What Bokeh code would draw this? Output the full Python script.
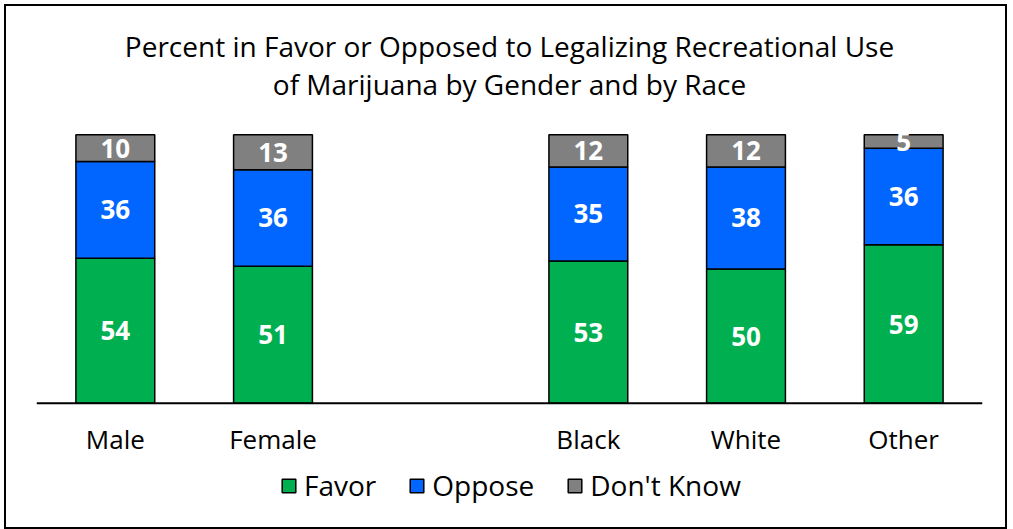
from bokeh.plotting import figure
from bokeh.models import ColumnDataSource, Legend, LegendItem, Label, Span
from bokeh.core.properties import value
from bokeh.embed import file_html
from bokeh.resources import INLINE

# ---- data ----
categories = ["Male", "Female", "", "Black", "White", "Other"]
favor = [54, 51, 0, 53, 50, 59]
oppose = [36, 36, 0, 35, 38, 36]
dont_know = [10, 13, 0, 12, 12, 5]
series_names = ["Favor", "Oppose", "Don't Know"]
colors = ["#00B050", "#0066FF", "#808080"]
title_lines = ["Percent in Favor or Opposed to Legalizing Recreational Use",
               "of Marijuana by Gender and by Race"]

FONT = "Open Sans"

idx = [i for i, c in enumerate(categories) if c]
xs = [i + 0.5 for i in idx]
fav = [favor[i] for i in idx]
opp = [oppose[i] for i in idx]
dk = [dont_know[i] for i in idx]

b0 = [0] * len(idx)
b1 = fav
b2 = [f + o for f, o in zip(fav, opp)]
t2 = [f + o + d for f, o, d in zip(fav, opp, dk)]

p = figure(width=1003, height=525, x_range=(0, 6), y_range=(-47.76, 147.76),
           output_backend="svg", toolbar_location=None,
           x_axis_location=None, y_axis_location=None,
           min_border_left=30, min_border_right=27,
           min_border_top=0, min_border_bottom=0)
p.styles = {"border": "2px solid black", "margin-left": "4px", "margin-top": "4px"}
p.outline_line_color = None
p.xgrid.visible = False
p.ygrid.visible = False

# two-line centred title
for txt, yy in zip(title_lines, [132.9, 119.0]):
    p.add_layout(Label(x=3, y=yy, text=txt, text_align="center",
                       text_baseline="middle", text_font=FONT,
                       text_font_size="28px", text_color="black"))

src = ColumnDataSource(dict(x=xs, b0=b0, b1=b1, b2=b2, t2=t2))
r_f = p.vbar(x="x", bottom="b0", top="b1", width=0.5, source=src,
             fill_color=colors[0], line_color="black", line_width=1.5)
r_o = p.vbar(x="x", bottom="b1", top="b2", width=0.5, source=src,
             fill_color=colors[1], line_color="black", line_width=1.5)
r_d = p.vbar(x="x", bottom="b2", top="t2", width=0.5, source=src,
             fill_color=colors[2], line_color="black", line_width=1.5)

# data labels
lx, ly, lt = [], [], []
for x, f, o, d in zip(xs, fav, opp, dk):
    lx += [x, x, x]
    ly += [f / 2, f + o / 2, f + o + d / 2]
    lt += [str(f), str(o), str(d)]
lsrc = ColumnDataSource(dict(x=lx, y=ly, t=lt))
p.text(x="x", y="y", text="t", source=lsrc, text_align="center",
       text_baseline="middle", text_color="white", text_font=value(FONT),
       text_font_style="bold", text_font_size="26px")

# category axis: baseline line and category labels
p.add_layout(Span(location=0, dimension="width", line_color="black", line_width=2))
csrc = ColumnDataSource(dict(x=xs, y=[-13.4] * len(xs), t=[categories[i] for i in idx]))
p.text(x="x", y="y", text="t", source=csrc, text_align="center",
       text_baseline="middle", text_color="black", text_font=value(FONT),
       text_font_size="26px")

legend = Legend(items=[LegendItem(label=series_names[0], renderers=[r_f]),
                       LegendItem(label=series_names[1], renderers=[r_o]),
                       LegendItem(label=series_names[2], renderers=[r_d])],
                orientation="horizontal", location=(244, 27),
                label_text_font=FONT, label_text_font_size="28px",
                label_text_color="black",
                glyph_width=17, glyph_height=17, label_standoff=7,
                spacing=32, padding=0, margin=0,
                border_line_color=None, background_fill_alpha=0)
p.add_layout(legend, "center")

open("out.html", "w").write(file_html(p, INLINE))
